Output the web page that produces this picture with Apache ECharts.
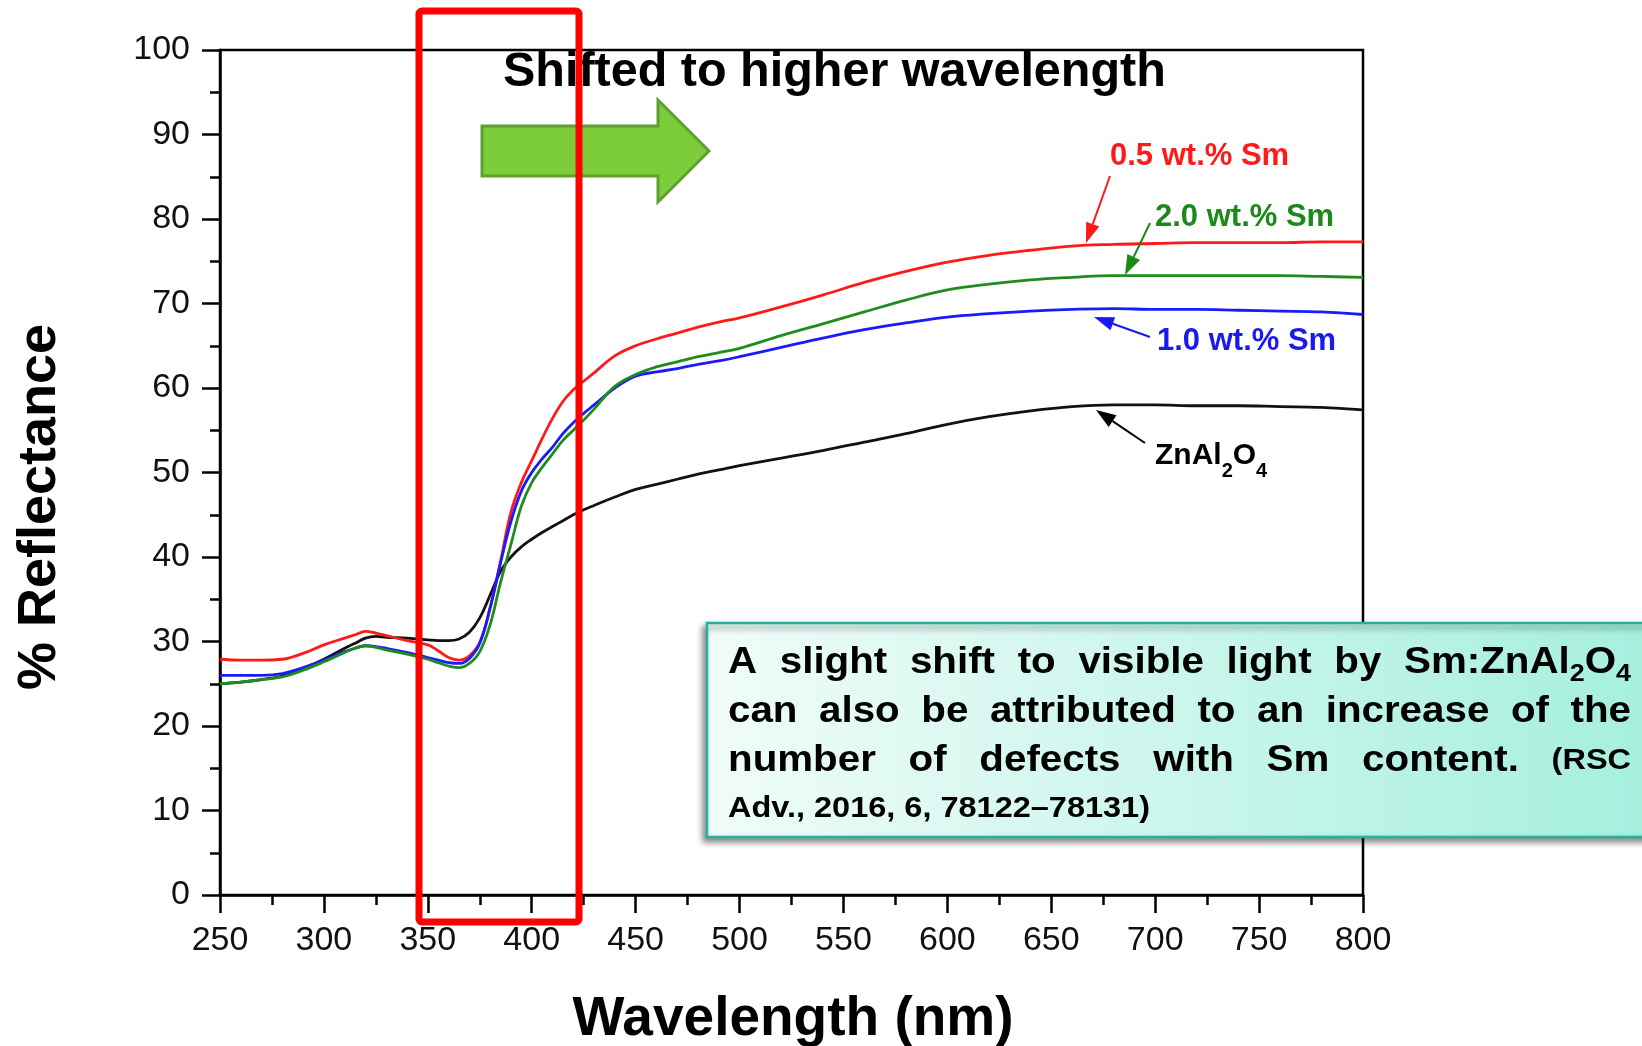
<!DOCTYPE html>
<html>
<head>
<meta charset="utf-8">
<script src="https://cdn.jsdelivr.net/npm/echarts@6/dist/echarts.min.js"></script>
<style>
html,body{margin:0;padding:0;background:#fff;}
#c{width:1642px;height:1046px;}
</style>
</head>
<body>
<div id="c"></div>
<script>
// ---- data ----
const wavelengths = [250,260,270,280,290,300,310,315,320,325,
  330,340,350,355,360,365,370,375,380,385,
  390,395,400,405,410,415,420,425,430,440,
  450,460,470,480,490,500,520,540,560,580,
  600,620,640,660,680,700,720,740,760,780,800];
const znAl2O4 = [25.0,25.2,25.5,25.9,26.8,27.9,29.2,29.8,30.4,30.6,
  30.5,30.4,30.2,30.1,30.1,30.3,31.1,32.8,35.5,38.3,
  40.0,41.2,42.1,42.9,43.6,44.3,45.0,45.6,46.1,47.1,
  48.0,48.6,49.2,49.8,50.3,50.8,51.7,52.6,53.6,54.6,
  55.7,56.6,57.3,57.8,58.0,58.0,57.9,57.9,57.8,57.7,57.4];
const sm05 = [27.9,27.8,27.8,27.9,28.6,29.6,30.4,30.8,31.2,31.0,
  30.7,30.1,29.6,28.9,28.1,27.8,28.3,29.9,34.0,39.5,
  45.3,48.8,51.4,54.0,56.4,58.4,59.8,60.8,61.8,63.8,
  65.0,65.8,66.5,67.2,67.8,68.3,69.6,71.0,72.5,73.8,
  74.9,75.7,76.3,76.8,77.0,77.1,77.2,77.2,77.2,77.3,77.3];
const sm10 = [26.0,26.0,26.0,26.2,26.9,27.8,28.8,29.2,29.5,29.4,
  29.2,28.7,28.1,27.8,27.5,27.4,28.0,29.8,34.0,39.3,
  44.2,47.8,50.0,51.6,53.0,54.6,55.9,57.0,58.0,60.0,
  61.4,61.9,62.3,62.8,63.2,63.7,64.8,65.9,66.9,67.7,
  68.4,68.8,69.1,69.3,69.4,69.3,69.3,69.2,69.1,69.0,68.7];
const sm20 = [25.0,25.2,25.5,25.8,26.6,27.6,28.7,29.2,29.5,29.3,
  29.0,28.5,27.9,27.5,27.1,26.9,27.4,28.8,32.0,37.0,
  41.5,46.0,48.8,50.6,52.2,53.8,55.0,56.2,57.5,60.2,
  61.6,62.5,63.1,63.7,64.2,64.7,66.2,67.6,69.0,70.4,
  71.6,72.3,72.8,73.1,73.3,73.3,73.3,73.3,73.3,73.2,73.1];
const seriesNames = ['ZnAl2O4','0.5 wt.% Sm','1.0 wt.% Sm','2.0 wt.% Sm'];

// ---- helpers ----
const F = '"Liberation Sans", Arial, sans-serif';
const ctx = document.createElement('canvas').getContext('2d');
function tw(t, size){ ctx.font = 'bold ' + size + 'px ' + F; return ctx.measureText(t).width; }
function txt(t, x, y, size, color, opts){
  opts = opts || {};
  const al = opts.align || 'left';
  return { type:'text', x:x, y:y, scaleX: opts.sx || 1, rotation: opts.rot || 0, z: opts.z || 200,
    style:{ text:t, fontSize:size, fontWeight:'bold', fontFamily:F, fill:color,
      align:al, textAlign:al, verticalAlign:'middle', textVerticalAlign:'middle' } };
}
function runs(list, x, y, sx, color, out){
  let cx = x;
  list.forEach(r => { out.push(txt(r.t, cx, y + (r.dy||0), r.size, color, {sx:sx, z:210})); cx += tw(r.t, r.size) * sx; });
  return cx - x;
}
const S = 1.12;
function justify(words, left, right, y, out){
  const widths = words.map(w => w.reduce((s,r)=>s + tw(r.t,r.size)*S, 0));
  const total = widths.reduce((a,b)=>a+b, 0);
  const gap = (right - left - total) / (words.length - 1);
  let cx = left;
  words.forEach((w,i) => { runs(w, cx, y, S, '#000', out); cx += widths[i] + gap; });
}
function arrow(x1,y1,x2,y2,color,out){
  const a = Math.atan2(y2-y1, x2-x1), L = 20, W = 7;
  const bx = x2 - L*Math.cos(a), by = y2 - L*Math.sin(a);
  out.push({type:'line', z:150, shape:{x1:x1,y1:y1,x2:bx,y2:by}, style:{stroke:color, lineWidth:2}});
  out.push({type:'polygon', z:150, shape:{points:[[x2,y2],[bx - W*Math.sin(a), by + W*Math.cos(a)],[bx + W*Math.sin(a), by - W*Math.cos(a)]]}, style:{fill:color}});
}

// ---- annotations ----
const els = [];
// text box
els.push({type:'rect', z:180, shape:{x:707, y:623, width:960, height:214},
  style:{fill:new echarts.graphic.LinearGradient(0,0,1,0,[{offset:0,color:'#f0fcf9'},{offset:1,color:'#a4efdd'}]),
    stroke:'#22b39f', lineWidth:2.5, shadowBlur:6, shadowOffsetX:-3, shadowOffsetY:4, shadowColor:'rgba(0,0,0,0.45)'}});
const M = 36, SM = 29, SUB = 24;
const w = t => [{t:t, size:M}];
justify([w('A'),w('slight'),w('shift'),w('to'),w('visible'),w('light'),w('by'),
  [{t:'Sm:ZnAl',size:M},{t:'2',size:SUB,dy:11},{t:'O',size:M},{t:'4',size:SUB,dy:11}]], 728, 1631, 663, els);
justify([w('can'),w('also'),w('be'),w('attributed'),w('to'),w('an'),w('increase'),w('of'),w('the')], 728, 1631, 712, els);
justify([w('number'),w('of'),w('defects'),w('with'),w('Sm'),w('content.'),[{t:'(RSC',size:SM}]], 728, 1631, 761, els);
runs([{t:'Adv., 2016, 6, 78122\u201378131)', size:SM}], 728, 809, S, '#000', els);

// shifted text + green arrow
els.push(txt('Shifted to higher wavelength', 503, 73, 48.5, '#000', {z:170}));
els.push({type:'polygon', z:175, shape:{points:[[482,126],[658,126],[658,100],[709,151],[658,202],[658,176],[482,176]]},
  style:{fill:'#7dcd3b', stroke:'#5f9f2f', lineWidth:3}});
// red rectangle
els.push({type:'rect', z:190, shape:{x:419, y:11, width:160, height:911, r:3}, style:{fill:'none', stroke:'#ff0000', lineWidth:7}});

// series labels
els.push(txt('0.5 wt.% Sm', 1110, 156, 31, '#ff1a1a'));
els.push(txt('2.0 wt.% Sm', 1155, 217, 31, '#1a8a1a'));
els.push(txt('1.0 wt.% Sm', 1157, 341, 31, '#1a1aee'));
runs([{t:'ZnAl',size:30},{t:'2',size:20,dy:15},{t:'O',size:30},{t:'4',size:20,dy:15}], 1155, 456, 1, '#000', els);
arrow(1110,176,1086,243,'#ff1a1a',els);
arrow(1150,223,1125,275,'#1a8a1a',els);
arrow(1150,337,1094,317,'#1a1aee',els);
arrow(1145,443,1096,410,'#000',els);

// axis titles
els.push(txt('% Reflectance', 40, 507, 54, '#000', {align:'center', rot:Math.PI/2}));
els.push(txt('Wavelength (nm)', 793, 1020, 55, '#000', {align:'center'}));

// ---- chart ----
const chart = echarts.init(document.getElementById('c'), null, {renderer:'canvas'});
const mk = (name, vals, color) => ({
  name:name, type:'line', data: wavelengths.map((x,i)=>[x, vals[i]]),
  showSymbol:false, symbol:'none', smooth:0.4,
  lineStyle:{color:color, width:2.8}, itemStyle:{color:color}, z:3
});
const axisCommon = {
  axisLine:{show:true, onZero:false, lineStyle:{color:'#000', width:2.5}},
  axisTick:{show:true, inside:false, length:18, lineStyle:{color:'#000', width:2.5}},
  minorTick:{show:true, splitNumber:2, length:10, lineStyle:{color:'#000', width:2.5}},
  splitLine:{show:false}, minorSplitLine:{show:false},
  axisLabel:{color:'#111', fontSize:34, fontFamily:F}
};
chart.setOption({
  animation:false,
  backgroundColor:'#fff',
  grid:{left:220, right:279, top:50, bottom:151, show:true, borderColor:'#000', borderWidth:2.5, containLabel:false},
  xAxis:Object.assign({type:'value', min:250, max:800, interval:50}, axisCommon,
    {axisLabel:Object.assign({}, axisCommon.axisLabel, {margin:29})}),
  yAxis:Object.assign({type:'value', min:0, max:100, interval:10}, axisCommon,
    {axisLabel:Object.assign({}, axisCommon.axisLabel, {margin:30})}),
  series:[
    mk(seriesNames[0], znAl2O4, '#111111'),
    mk(seriesNames[1], sm05, '#ff1a1a'),
    mk(seriesNames[2], sm10, '#1a1aff'),
    mk(seriesNames[3], sm20, '#1e8c1e')
  ],
  graphic:{elements:els}
});
</script>
</body>
</html>
